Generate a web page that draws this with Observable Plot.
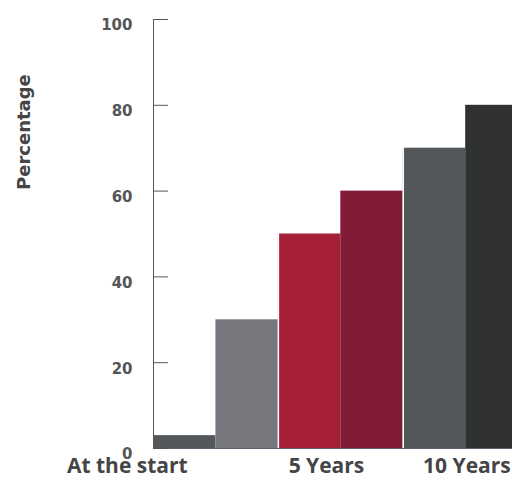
<!DOCTYPE html>
<html><head><meta charset="utf-8">
<script src="https://cdn.jsdelivr.net/npm/d3@7"></script>
<script src="https://cdn.jsdelivr.net/npm/@observablehq/plot@0.6"></script>
<style>html,body{margin:0;padding:0;background:#fff;overflow:hidden}</style>
</head><body><div id="chart"></div>
<script>
const barIndex = [0, 1, 2, 3, 4, 5];
const barValues = [3, 30, 50, 60, 70, 80];
const barColors = ["#54585b", "#77787d", "#a52036", "#811c37", "#54585b", "#303133"];
const groupBoundaries = [2, 4];
const yTicks = [0, 20, 40, 60, 80, 100];
const xLabels = ["At the start", "5 Years", "10 Years"];
const xLabelPos = [-0.42, 2.77, 5.02];

const bars = barIndex.map(i => ({x1: i, x2: i + 1, value: barValues[i], color: barColors[i]}));
const font = "'DejaVu Sans', sans-serif";
const labelFont = "'Open Sans', sans-serif";

const chart = Plot.plot({
  width: 512, height: 480,
  marginLeft: 153, marginRight: 0, marginTop: 19, marginBottom: 32,
  style: {fontFamily: font, background: "white"},
  x: {domain: [0, 5.75], axis: null},
  y: {domain: [0, 100], axis: null},
  marks: [
    Plot.rect(bars, {x1: "x1", x2: "x2", y1: 0, y2: "value", fill: "color", clip: true}),
    Plot.ruleX(groupBoundaries, {y1: 0, y2: 100, stroke: "white", strokeWidth: 1.5}),
    Plot.ruleY([0], {stroke: "#5b6570"}),
    Plot.ruleX([0], {y1: 0, y2: 100, stroke: "#555"}),
    Plot.axisY({ticks: yTicks, tickSize: 15, dx: 15, text: null, stroke: "#555", label: null}),
    Plot.axisY({ticks: yTicks, tickSize: 0, tickPadding: 21, dy: 6, fontSize: 15, fontWeight: "bold", color: "#555", label: null}),
    Plot.text(["Percentage"], {frameAnchor: "left", dx: -129, dy: -44, rotate: -90, fontSize: 18, fontWeight: "bold", fill: "#454545"}),
    Plot.text(xLabels, {x: xLabelPos, text: d => d, frameAnchor: "bottom", dy: 24, fontSize: 21, fontWeight: "bold", fontFamily: labelFont, fill: "#454545"})
  ]
});
document.getElementById("chart").appendChild(chart);
</script>
</body></html>
